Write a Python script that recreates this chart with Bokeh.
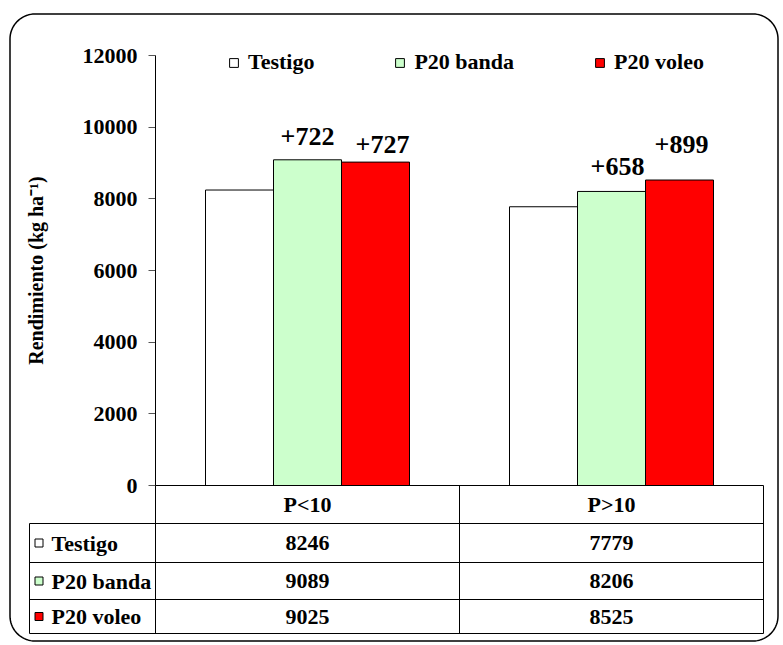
import math
from bokeh.plotting import figure
from bokeh.models import Range1d, FixedTicker, Legend, LegendItem
from bokeh.core.properties import value
from bokeh.embed import file_html
from bokeh.resources import INLINE

# ---------------- data ----------------
categories = ["P<10", "P>10"]
series = ["Testigo", "P20 banda", "P20 voleo"]
testigo = [8246, 7779]
p20_banda = [9089, 8206]
p20_voleo = [9025, 8525]
gain_banda = ["+722", "+658"]
gain_voleo = ["+727", "+899"]
y_ticks = [0, 2000, 4000, 6000, 8000, 10000, 12000]
y_label = "Rendimiento (kg ha\u207b\u00b9)"

# ---------------- style / layout ----------------
colors = ["#FFFFFF", "#CCFFCC", "#FF0000"]
FONT = "Liberation Serif"
FS = "22px"
W, H = 780, 643
OX, OY = 0, 0                           # page offset of the canvas
FL, FR, FT, FB = 155, 763, 35, 633      # frame edges, page px
YT = 55                                 # page px of the top tick value
Y0 = 485                                # page px of value 0
YMAX = y_ticks[-1]
PXU = (Y0 - YT) / YMAX
XU = (FR - FL) / len(categories)

def dx(px):
    return (px - FL) / XU

def dy(py):
    return (Y0 - py) / PXU

p = figure(width=W, height=H, output_backend="svg", toolbar_location=None,
           title=None, x_axis_location=None,
           x_range=Range1d(0, len(categories)), y_range=Range1d(dy(FB), dy(FT)),
           min_border_left=FL - OX, min_border_right=OX + W - FR,
           min_border_top=FT - OY, min_border_bottom=OY + H - FB)
p.grid.visible = False
p.outline_line_color = None
p.background_fill_color = "white"

ax = p.yaxis[0]
ax.ticker = FixedTicker(ticks=y_ticks, minor_ticks=[])
ax.major_label_text_font = FONT
ax.major_label_text_font_size = FS
ax.major_label_text_font_style = "bold"
ax.major_label_text_color = "black"
ax.major_tick_out = 7
ax.major_tick_in = 0
ax.minor_tick_out = 0
ax.minor_tick_in = 0
ax.major_label_standoff = 11
ax.axis_line_color = None
ax.major_tick_line_color = "#555555"

# ---------------- bars ----------------
bar_w = 68 / XU
values = [testigo, p20_banda, p20_voleo]
renderers = []
centers = {}
for i, (name, vals, col) in enumerate(zip(series, values, colors)):
    xs = [j + 0.5 + (i - 1) * bar_w for j in range(len(categories))]
    centers[name] = xs
    r = p.vbar(x=xs, top=vals, bottom=0, width=bar_w, fill_color=col,
               line_color="black", line_width=1)
    renderers.append(r)

# gain labels above bars (pixel nudges as placed in the original)
lab_off_banda = [(0, 23), (6, 25)]
lab_off_voleo = [(7, 18), (2, 36)]
for name, vals, labs, offs in [("P20 banda", p20_banda, gain_banda, lab_off_banda),
                               ("P20 voleo", p20_voleo, gain_voleo, lab_off_voleo)]:
    p.text(x=centers[name], y=vals, text=labs,
           x_offset=[o[0] for o in offs], y_offset=[-o[1] for o in offs],
           text_align="center", text_baseline="alphabetic",
           text_font=value(FONT), text_font_style="bold", text_font_size="26px",
           text_color="black")

# ---------------- legend ----------------
legend = Legend(items=[LegendItem(label=n, renderers=[r]) for n, r in zip(series, renderers)],
                orientation="horizontal", location=(228 - FL, FB - 75),
                glyph_width=11, glyph_height=11, label_standoff=9, spacing=80,
                padding=0, margin=0, border_line_color=None, background_fill_alpha=0,
                label_text_font=FONT, label_text_font_size=FS,
                label_text_font_style="bold", label_text_color="black")
p.add_layout(legend)

# ---------------- value axis line + data table ----------------
row_px = [485, 523, 562, 599, 633]
col_px = [29, 155, 459, 763]
sx0, sy0, sx1, sy1 = [dx(col_px[1])], [0], [dx(col_px[1])], [YMAX]
for k, py in enumerate(row_px):
    sx0.append(dx(col_px[1] if k == 0 else col_px[0]))
    sx1.append(dx(col_px[-1]))
    sy0.append(dy(py))
    sy1.append(dy(py))
for k, px in enumerate(col_px):
    sx0.append(dx(px))
    sx1.append(dx(px))
    sy0.append(dy(row_px[1] if k == 0 else row_px[0]))
    sy1.append(dy(row_px[-1]))
p.segment(x0=sx0, y0=sy0, x1=sx1, y1=sy1, line_color="black", line_width=1,
          level="overlay")

row_c = [dy((row_px[k] + row_px[k + 1]) / 2) for k in range(len(row_px) - 1)]
cat_x = [j + 0.5 for j in range(len(categories))]
txt = dict(text_font=value(FONT), text_font_style="bold", text_font_size=FS,
           text_color="black", text_baseline="middle", level="overlay")
p.text(x=cat_x, y=[row_c[0]] * len(categories), text=categories, text_align="center", **txt)
for i, vals in enumerate(values):
    p.text(x=cat_x, y=[row_c[i + 1]] * len(vals), text=[str(v) for v in vals],
           text_align="center", **txt)
p.rect(x=[dx(38.5)] * len(series), y=row_c[1:], width=8, height=8,
       width_units="screen", height_units="screen",
       fill_color=colors, line_color="black", line_width=1, level="overlay")
p.text(x=[dx(51)] * len(series), y=row_c[1:], text=series, text_align="left", **txt)

# y axis title
p.text(x=[dx(35)], y=[YMAX / 2], text=[y_label], angle=math.pi / 2,
       text_align="center", text_baseline="middle", text_font=value(FONT),
       text_font_style="bold", text_font_size="20px", text_color="black", level="overlay")

# ---------------- rounded frame ----------------
bx0, bx1, by0, by1, rad = 9.5, 777.5, 13.5, 640.5, 25
pts = []
for (cx, cy, a0) in [(bx1 - rad, by0 + rad, -90), (bx1 - rad, by1 - rad, 0),
                     (bx0 + rad, by1 - rad, 90), (bx0 + rad, by0 + rad, 180)]:
    for t in range(0, 91, 5):
        a = math.radians(a0 + t)
        pts.append((cx + rad * math.cos(a), cy + rad * math.sin(a)))
pts.append(pts[0])
p.line(x=[dx(a) for a, b in pts], y=[dy(b) for a, b in pts], line_color="black",
       line_width=1.5, level="overlay")

open("out.html", "w").write(file_html(p, INLINE))
